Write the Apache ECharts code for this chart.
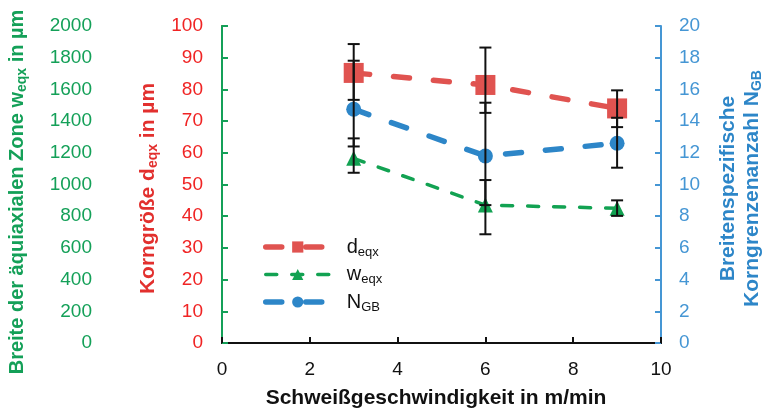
<!DOCTYPE html>
<html>
<head>
<meta charset="utf-8">
<script src="https://cdn.jsdelivr.net/npm/echarts@6/dist/echarts.min.js"></script>
<style>html,body{margin:0;padding:0;background:#fff}#c{width:767px;height:414px}</style>
</head>
<body>
<div id="c"></div>
<script>
// ---- data ----
const speeds = [3, 6, 9];
const dEqx = [85.2, 81.4, 74.0];
const dEqxLow = [76.7, 72.6, 68.1];
const dEqxHigh = [94.3, 93.2, 79.7];
const wEqx = [1165, 870, 850];
const wEqxLow = [1074, 686, 802];
const wEqxHigh = [1291, 1028, 900];
const nGB = [14.75, 11.8, 12.6];
const nGBLow = [12.4, 8.7, 11.06];
const nGBHigh = [17.81, 15.16, 14.21];
const xTicks = [0, 2, 4, 6, 8, 10];

const FONT = 'Liberation Sans, Arial, sans-serif';
const RED = '#E05350', RED_AX = '#F02424';
const GREEN = '#12A252', GREEN_AX = '#14A058';
const BLUE = '#2D86C8', BLUE_AX = '#4596D4';

function pairs(xs, ys) { return xs.map((x, i) => [x, ys[i]]); }
function errData(xs, lo, hi) { return xs.map((x, i) => [x, lo[i], hi[i]]); }

function errSeries(yIdx, xs, lo, hi) {
  return {
    type: 'custom', yAxisIndex: yIdx, z: 10, silent: true,
    data: errData(xs, lo, hi),
    encode: { x: 0, y: [1, 2] },
    renderItem: function (params, api) {
      const x = api.value(0);
      const p1 = api.coord([x, api.value(2)]);
      const p2 = api.coord([x, api.value(1)]);
      const w = 6;
      const st = { stroke: '#111', lineWidth: 2 };
      return {
        type: 'group', children: [
          { type: 'line', shape: { x1: p1[0], y1: p1[1], x2: p2[0], y2: p2[1] }, style: st },
          { type: 'line', shape: { x1: p1[0] - w, y1: p1[1], x2: p1[0] + w, y2: p1[1] }, style: st },
          { type: 'line', shape: { x1: p2[0] - w, y1: p2[1], x2: p2[0] + w, y2: p2[1] }, style: st }
        ]
      };
    }
  };
}

function richName(color, size) {
  return {
    b: { fontSize: size, fontWeight: 'bold', color: color, fontFamily: FONT },
    s: { fontSize: 14, fontWeight: 'bold', color: color, fontFamily: FONT, padding: [10, 0, 0, 0] }
  };
}
const plain = v => String(v);

const chart = echarts.init(document.getElementById('c'), null, { renderer: 'canvas' });
chart.setOption({
  animation: false,
  textStyle: { fontFamily: FONT },
  grid: { left: 222, right: 106, top: 26, bottom: 71, containLabel: false, outerBoundsMode: 'none' },
  legend: {
    data: [
      { name: 'd', lineStyle: { width: 5.5, color: RED, type: [16, 24], cap: 'round' } },
      { name: 'w', lineStyle: { width: 3.5, color: GREEN, type: [11, 15], cap: 'round' } },
      { name: 'N', lineStyle: { width: 5.5, color: BLUE, type: [16, 24], cap: 'round' } }
    ],
    orient: 'vertical', left: 258, top: 232, itemWidth: 64, itemHeight: 14, itemGap: 6,
    selectedMode: false,
    formatter: function (n) {
      const m = { d: '{m|d}{s|eqx}', w: '{m|w}{s|eqx}', N: '{m|N}{s|GB}' };
      return m[n];
    },
    textStyle: {
      padding: [0, 0, 0, 12],
      rich: {
        m: { fontSize: 20, color: '#111', fontFamily: FONT },
        s: { fontSize: 13, color: '#111', fontFamily: FONT, padding: [10, 0, 0, 0] }
      }
    }
  },
  xAxis: [{
    type: 'value', min: 0, max: 10, interval: 2,
    name: 'Schweißgeschwindigkeit in m/min', nameLocation: 'middle', nameGap: 45,
    nameTextStyle: { fontSize: 21, fontWeight: 'bold', color: '#111', fontFamily: FONT, padding: [0, 11, 0, 0] },
    axisLine: { show: true, lineStyle: { color: '#111', width: 2 } },
    axisTick: { show: true, inside: true, length: 6, lineStyle: { color: '#111', width: 2 } },
    axisLabel: { fontSize: 19, color: '#111', margin: 17, customValues: xTicks },
    splitLine: { show: false }
  }, {
    type: 'value', min: 0, max: 10, position: 'top',
    axisLine: { show: true, lineStyle: { color: '#111', width: 2 } },
    axisTick: { show: false }, axisLabel: { show: false }, splitLine: { show: false }
  }],
  yAxis: [{
    type: 'value', min: 0, max: 100, interval: 10, position: 'left',
    name: '{b|Korngröße d}{s|eqx}{b| in µm}', nameLocation: 'middle', nameGap: 45, nameRotate: 90,
    nameTextStyle: { rich: richName('#E2302E', 21), padding: [0, 8, 0, 0] },
    axisLine: { show: true, lineStyle: { color: RED_AX, width: 2 } },
    axisTick: { show: true, inside: true, length: 6, lineStyle: { color: RED_AX, width: 2 } },
    axisLabel: { fontSize: 19, color: RED_AX, margin: 19, formatter: plain },
    splitLine: { show: false }
  }, {
    type: 'value', min: 0, max: 2000, interval: 200, position: 'left', offset: 109,
    name: '{b|Breite der äquiaxialen Zone w}{s|eqx}{b| in µm}', nameLocation: 'middle', nameGap: 84, nameRotate: 90,
    nameTextStyle: { rich: richName(GREEN_AX, 20), padding: [0, 15, 0, 0] },
    axisLine: { show: true, lineStyle: { color: GREEN_AX, width: 2 } },
    axisTick: { show: true, inside: true, length: 6, lineStyle: { color: GREEN_AX, width: 2 } },
    axisLabel: { fontSize: 19, color: GREEN_AX, margin: 21, formatter: plain },
    splitLine: { show: false }
  }, {
    type: 'value', min: 0, max: 20, interval: 2, position: 'right',
    name: '{b|Breitenspezifische}\n{b|Korngrenzenanzahl N}{s|GB}', nameLocation: 'middle', nameGap: 55, nameRotate: 90,
    nameTextStyle: { rich: richName(BLUE, 21), lineHeight: 24, padding: [0, 8, 0, 0] },
    axisLine: { show: true, lineStyle: { color: BLUE_AX, width: 2 } },
    axisTick: { show: true, inside: true, length: 6, lineStyle: { color: BLUE_AX, width: 2 } },
    axisLabel: { fontSize: 19, color: BLUE_AX, margin: 18, formatter: plain },
    splitLine: { show: false }
  }],
  series: [{
    name: 'd', type: 'line', yAxisIndex: 0, data: pairs(speeds, dEqx),
    symbol: 'rect', symbolSize: 20, z: 3,
    itemStyle: { color: RED },
    lineStyle: { color: RED, width: 5.5, type: [16, 24], cap: 'round' }
  }, {
    name: 'w', type: 'line', yAxisIndex: 1, data: pairs(speeds, wEqx),
    symbol: 'triangle', symbolSize: 15, z: 3,
    itemStyle: { color: GREEN },
    lineStyle: { color: GREEN, width: 3.5, type: [11, 15], cap: 'round' }
  }, {
    name: 'N', type: 'line', yAxisIndex: 2, data: pairs(speeds, nGB),
    symbol: 'circle', symbolSize: 15, z: 3,
    itemStyle: { color: BLUE },
    lineStyle: { color: BLUE, width: 5.5, type: [16, 24], cap: 'round' }
  },
  errSeries(0, speeds, dEqxLow, dEqxHigh),
  errSeries(1, speeds, wEqxLow, wEqxHigh),
  errSeries(2, speeds, nGBLow, nGBHigh)
  ]
});
</script>
</body>
</html>
